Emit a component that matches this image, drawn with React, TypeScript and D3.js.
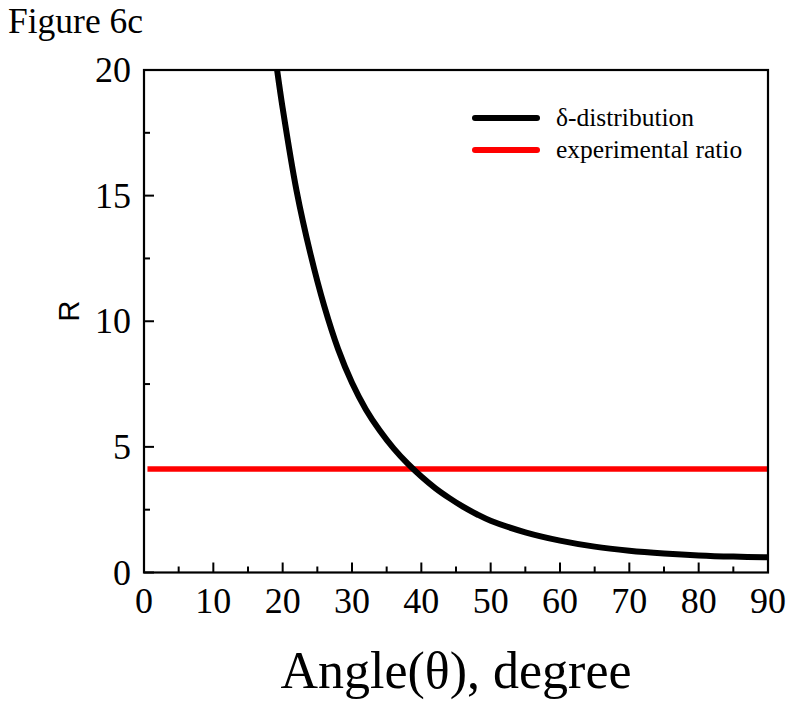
import React from "react";
import * as d3 from "d3";

const angleValues = [19.2, 20, 22, 24, 26, 28, 30, 32, 34, 36, 38, 40, 42, 44, 46, 48, 50, 55, 60, 65, 70, 75, 80, 85, 90];
const deltaR = [20, 18.48, 15.2, 12.69, 10.6, 8.89, 7.55, 6.49, 5.65, 4.94, 4.34, 3.82, 3.36, 2.97, 2.62, 2.32, 2.06, 1.6, 1.27, 1.03, 0.87, 0.76, 0.68, 0.632, 0.607];
const expAngles = [0.5, 90];
const expRatio = [4.12, 4.12];
const xTicks = [0, 10, 20, 30, 40, 50, 60, 70, 80, 90];
const yTicks = [0, 5, 10, 15, 20];
const legendLabels = ["δ-distribution", "experimental ratio"];
const legendColors = ["#000000", "#ff0000"];

const W = 795, H = 708;
const L = 144, R = 768, T = 70, B = 572.5;

export default function App() {
  const x = d3.scaleLinear().domain([0, 90]).range([L, R]);
  const y = d3.scaleLinear().domain([0, 20]).range([B, T]);
  const line = d3.line<[number, number]>().x(d => x(d[0])).y(d => y(d[1])).curve(d3.curveCatmullRom);
  const blackPts = angleValues.map((a, i) => [a, deltaR[i]] as [number, number]);
  const redPts = expAngles.map((a, i) => [a, expRatio[i]] as [number, number]);
  const xMinor = d3.range(5, 90, 10);
  const yMinor = d3.range(2.5, 20, 5);
  const serif = "'Liberation Serif', 'Times New Roman', serif";
  return (
    <svg width={W} height={H} style={{ position: "absolute", left: 0, top: 0, background: "#fff" }}>
      <defs>
        <clipPath id="plot"><rect x={L} y={T} width={R - L} height={B - T} /></clipPath>
      </defs>
      <text x={8} y={33} fontFamily={serif} fontSize={35.5}>Figure 6c</text>
      <g clipPath="url(#plot)">
        <path d={line(redPts) || ""} fill="none" stroke="#ff0000" strokeWidth={5.5} />
        <path d={line(blackPts) || ""} fill="none" stroke="#000" strokeWidth={6} />
      </g>
      <rect x={L} y={T} width={R - L} height={B - T} fill="none" stroke="#000" strokeWidth={2.2} />
      {xTicks.map(t => (
        <g key={"xt" + t}>
          <line x1={x(t)} x2={x(t)} y1={B} y2={B - 10} stroke="#000" strokeWidth={2} />
          <text x={x(t)} y={613} textAnchor="middle" fontFamily={serif} fontSize={36}>{t}</text>
        </g>
      ))}
      {xMinor.map(t => (
        <line key={"xm" + t} x1={x(t)} x2={x(t)} y1={B} y2={B - 6} stroke="#000" strokeWidth={2} />
      ))}
      {yTicks.map(t => (
        <g key={"yt" + t}>
          <line x1={L} x2={L + 10} y1={y(t)} y2={y(t)} stroke="#000" strokeWidth={2} />
          <text x={131} y={y(t) + 12} textAnchor="end" fontFamily={serif} fontSize={36}>{t}</text>
        </g>
      ))}
      {yMinor.map(t => (
        <line key={"ym" + t} x1={L} x2={L + 6} y1={y(t)} y2={y(t)} stroke="#000" strokeWidth={2} />
      ))}
      <text x={(L + R) / 2} y={688} textAnchor="middle" fontFamily={serif} fontSize={52}>Angle(θ), degree</text>
      <text transform={`translate(79, 311) rotate(-90)`} textAnchor="middle" fontFamily="'Liberation Sans', Arial, sans-serif" fontSize={29}>R</text>
      {legendLabels.map((lab, i) => (
        <g key={lab}>
          <line x1={475} x2={537} y1={118 + i * 32} y2={118 + i * 32} stroke={legendColors[i]} strokeWidth={6} strokeLinecap="round" />
          <text x={556} y={126 + i * 32} fontFamily={serif} fontSize={25.5}>{lab}</text>
        </g>
      ))}
    </svg>
  );
}
